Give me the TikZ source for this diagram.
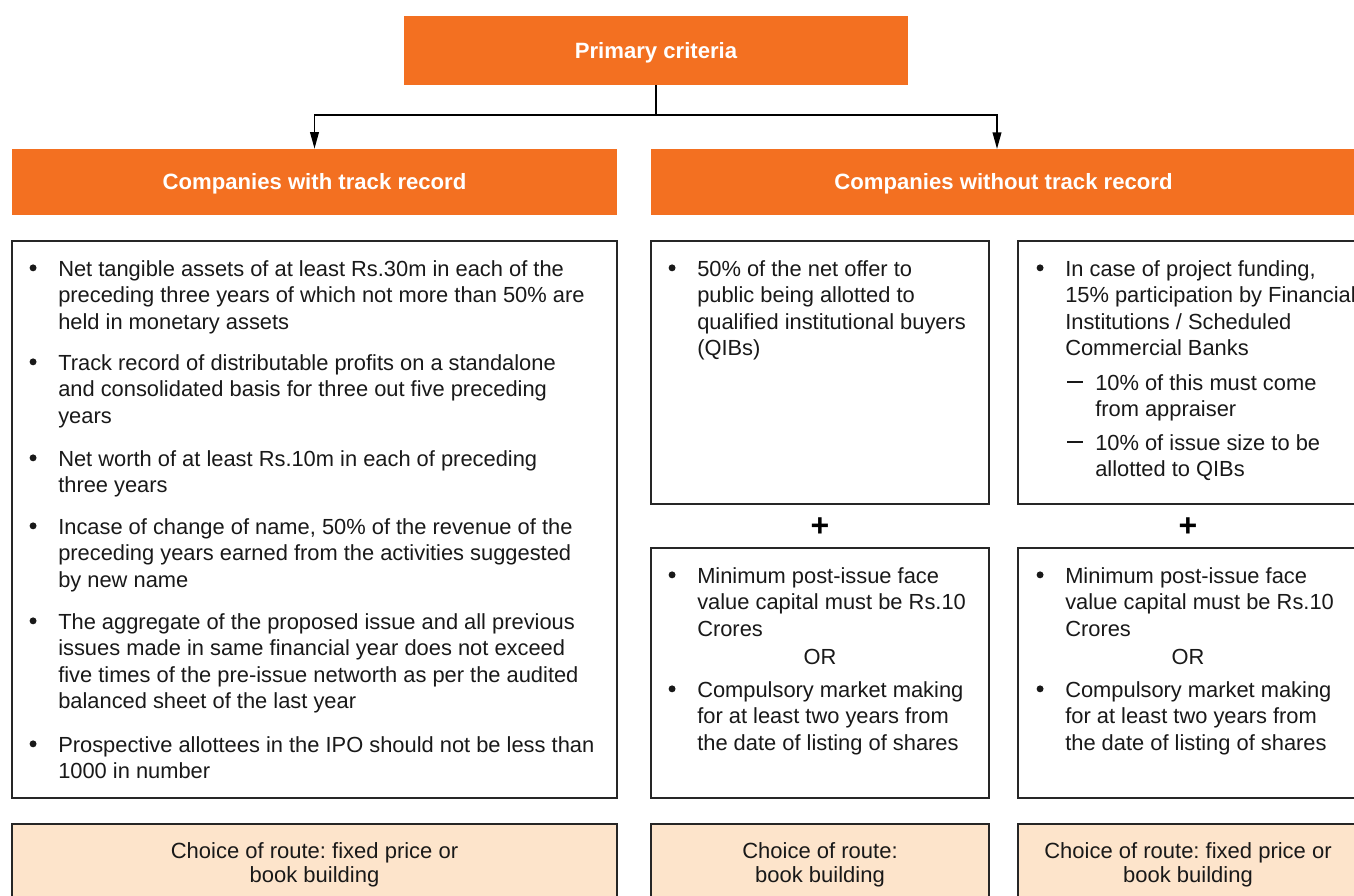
\documentclass[tikz,border=0pt]{standalone}
\usepackage{fontspec}
\setmainfont{Liberation Sans}
\usetikzlibrary{arrows.meta, positioning}
\definecolor{orng}{HTML}{F37021}
\definecolor{peach}{HTML}{FDE4CB}
\newcommand{\bul}{\tikz[baseline=-6.2pt]\fill[black!90] (0,0) circle (2.6pt);}
\newcommand{\dsh}{\rule[5.7pt]{12pt}{1pt}}
\newcommand{\bl}{\llap{\bul\hspace{16.3pt}}}
\newcommand{\sbl}{\llap{\dsh\hspace{9pt}}}
\tikzset{
  hdr/.style={fill=orng, text=white, inner sep=0pt, text height=11.9pt, text depth=0pt,
    font=\bfseries\fontsize{16.6}{19}\selectfont},
  box/.style={draw=black!85, line width=0.8pt, fill=white, inner sep=0pt},
  route/.style={box, fill=peach},
  txt/.style={anchor=north west, inner sep=0pt, align=left, text=black!90,
    font=\fontsize{16.4}{19.9}\selectfont},
  ortxt/.style={inner sep=0pt, text=black!90, font=\fontsize{16.4}{19.9}\selectfont},
  rtxt/.style={anchor=north, inner sep=0pt, align=center, text=black!90,
    font=\fontsize{16.5}{18}\selectfont, execute at begin node=\strut},
  plus/.style={inner sep=0pt, font=\bfseries\fontsize{24}{24}\selectfont},
  arr/.style={line width=1.3pt, -{Triangle[length=12.5pt,width=6.5pt]}}
}
\begin{document}
\frenchspacing
\begin{tikzpicture}[x=0.75pt, y=-0.75pt]
  \clip (0,0) rectangle (1354,896);

  % headers
  \node[hdr, minimum width=378pt, minimum height=51.75pt] (top) at (656,50.5) {Primary criteria};
  \node[hdr, minimum width=453.75pt, minimum height=49.5pt] (hl) at (314.5,182) {Companies with track record};
  \node[hdr, minimum width=528.75pt, minimum height=49.5pt] (hr) at (1003.5,182) {Companies without track record};

  \coordinate (j) at (656,115);
  \coordinate (hrin) at (997,149);
  \draw[line width=1.3pt] (top.south) -- (j);
  \draw[arr] (j) -| (hl.north);
  \draw[arr] (j) -| (hrin);

  % boxes
  \node[box, minimum width=453.75pt, minimum height=417.75pt] (bl) at (314.5,519.5) {};
  \node[box, minimum width=253.5pt, minimum height=197.25pt] (m1) at (820,372.5) {};
  \node[box, minimum width=256.5pt, minimum height=197.25pt] (r1) at (1189,372.5) {};
  \node[box, minimum width=253.5pt, minimum height=187.5pt] (m2) at (820,673) {};
  \node[box, minimum width=256.5pt, minimum height=187.5pt] (r2) at (1189,673) {};

  \node[plus] (p1) at (820,527) {+};
  \node[plus] (p2) at (1188,527) {+};

  % track record
  \node[txt] (t1) at (58,260) {\bl Net tangible assets of at least Rs.30m in each of the\\preceding three years of which not more than 50\% are\\held in monetary assets};
  \node[txt] (t2) at (58,354) {\bl Track record of distributable profits on a standalone\\and consolidated basis for three out five preceding\\years};
  \node[txt] (t3) at (58,450) {\bl Net worth of at least Rs.10m in each of preceding\\three years};
  \node[txt] (t4) at (58,518) {\bl Incase of change of name, 50\% of the revenue of the\\preceding years earned from the activities suggested\\by new name};
  \node[txt] (t5) at (58,613) {\bl The aggregate of the proposed issue and all previous\\issues made in same financial year does not exceed\\five times of the pre-issue networth as per the audited\\balanced sheet of the last year};
  \node[txt] (t6) at (58,736) {\bl Prospective allottees in the IPO should not be less than\\1000 in number};

  % without track record
  \node[txt] (m1a) at (697,260) {\bl 50\% of the net offer to\\public being allotted to\\qualified institutional buyers\\(QIBs)};
  \node[txt] (r1a) at (1065,260) {\bl In case of project funding,\\15\% participation by Financial\\Institutions / Scheduled\\Commercial Banks};
  \node[txt] (r1b) at (1095,374) {\sbl 10\% of this must come\\from appraiser};
  \node[txt] (r1c) at (1095,434) {\sbl 10\% of issue size to be\\allotted to QIBs};

  \node[txt] (m2a) at (697,567) {\bl Minimum post-issue face\\value capital must be Rs.10\\Crores};
  \node[ortxt] (m2or) at (820,657) {OR};
  \node[txt] (m2b) at (697,681) {\bl Compulsory market making\\for at least two years from\\the date of listing of shares};

  \node[txt] (r2a) at (1065,567) {\bl Minimum post-issue face\\value capital must be Rs.10\\Crores};
  \node[ortxt] (r2or) at (1188,657) {OR};
  \node[txt] (r2b) at (1065,681) {\bl Compulsory market making\\for at least two years from\\the date of listing of shares};

  % routes
  \node[route, minimum width=453.75pt, minimum height=60.75pt] (cl) at (314.5,864.5) {};
  \node[route, minimum width=253.5pt, minimum height=60.75pt] (cm) at (820,864.5) {};
  \node[route, minimum width=256.5pt, minimum height=60.75pt] (cr) at (1189,864.5) {};
  \node[rtxt] (clt) at (314.5,842) {Choice of route: fixed price or\\book building};
  \node[rtxt] (cmt) at (820,842) {Choice of route:\\book building};
  \node[rtxt] (crt) at (1188,842) {Choice of route: fixed price or\\book building};
\end{tikzpicture}
\end{document}
